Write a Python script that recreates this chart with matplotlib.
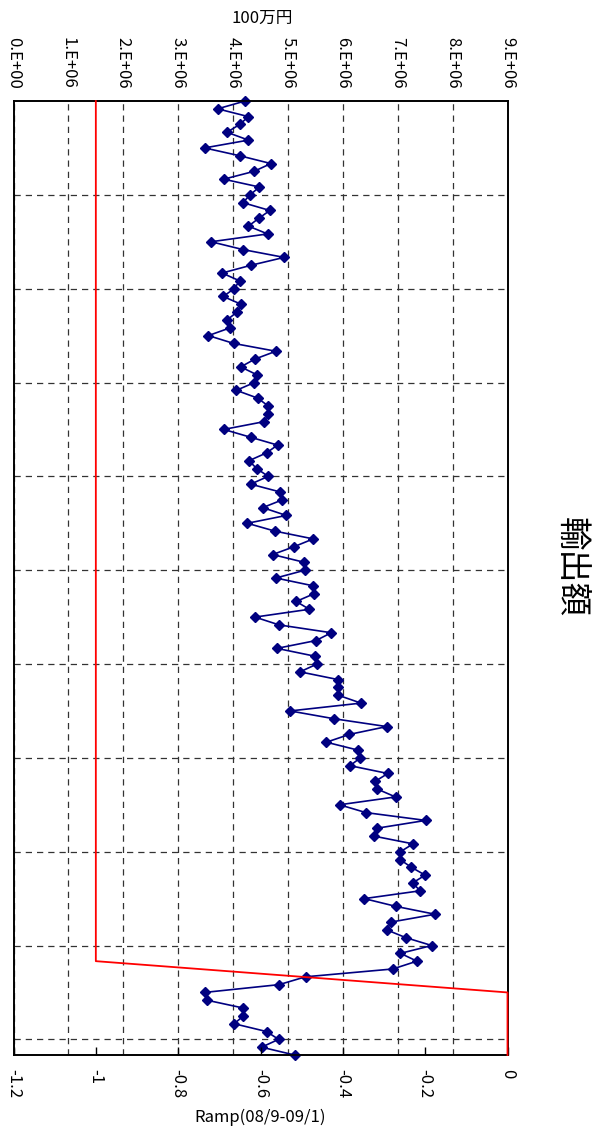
import matplotlib
matplotlib.use("Agg")
import matplotlib.pyplot as plt
import numpy as np

plt.rcParams['font.family'] = ['Noto Sans CJK JP', 'DejaVu Sans']

# monthly exports (100万円), in units of 1e6
export_m = [
    4.22, 3.72, 4.28, 4.12, 3.89, 4.28, 3.48, 4.12, 4.69, 4.38, 3.83, 4.48,
    4.31, 4.18, 4.67, 4.47, 4.28, 4.63, 3.60, 4.18, 4.93, 4.33, 3.80, 4.12,
    4.02, 3.82, 4.15, 4.07, 3.89, 3.95, 3.55, 4.01, 4.78, 4.40, 4.14, 4.43,
    4.39, 4.06, 4.45, 4.64, 4.64, 4.57, 3.83, 4.32, 4.81, 4.61, 4.29, 4.43,
    4.64, 4.32, 4.86, 4.90, 4.54, 4.97, 4.26, 4.76, 5.46, 5.11, 4.72, 5.30,
    5.31, 4.78, 5.46, 5.48, 5.15, 5.39, 4.40, 4.84, 5.79, 5.51, 4.80, 5.49,
    5.53, 5.22, 5.92, 5.91, 5.92, 6.33, 5.04, 5.84, 6.80, 6.12, 5.70, 6.27,
    6.32, 6.13, 6.82, 6.59, 6.63, 6.96, 5.94, 6.42, 7.51, 6.62, 6.56, 7.28,
    7.05, 7.04, 7.25, 7.50, 7.27, 7.41, 6.39, 6.97, 7.68, 6.88, 6.80, 7.15,
    7.62, 7.05, 7.35, 6.91, 5.32, 4.84, 3.48, 3.53, 4.19, 4.19, 4.02, 4.61,
    4.83, 4.52, 5.12,
]
# ramp dummy (08/9-09/1)
ramp = [-1.0] * 111 + [-0.75, -0.5, -0.25] + [0.0] * 9

value_ticks = [0, 1e6, 2e6, 3e6, 4e6, 5e6, 6e6, 7e6, 8e6, 9e6]
value_labels = ["0.E+00", "1.E+06", "2.E+06", "3.E+06", "4.E+06",
                "5.E+06", "6.E+06", "7.E+06", "8.E+06", "9.E+06"]
ramp_ticks = [-1.2, -1.0, -0.8, -0.6, -0.4, -0.2, 0.0]
ramp_labels = ["-1.2", "-1", "-0.8", "-0.6", "-0.4", "-0.2", "0"]

export = np.array(export_m) * 1e6
idx = np.arange(len(export))

fig = plt.figure(figsize=(5.92, 11.44), dpi=100)
ax = fig.add_axes([13.5 / 592, 1 - 1055 / 1144, 494 / 592, 954 / 1144])
ax2 = ax.twiny()

# export axis on top
ax.set_xlim(0, 9e6)
ax.set_ylim(len(export) - 1, 0)
ax.xaxis.tick_top()
ax.set_xticks(value_ticks)
ax.set_xticklabels(value_labels, rotation=-90, fontsize=12)
ax.set_yticks(np.arange(12, len(export), 12))
ax.set_yticklabels([])
ax.tick_params(axis='x', direction='in', length=0, pad=9)
ax.tick_params(axis='y', length=0)
ax.grid(True, color='#333333', linestyle=(0, (5, 4)), linewidth=0.9)

ax.plot(export, idx, color='#000080', linewidth=1.2, marker='D',
        markersize=5.2, zorder=3, clip_on=False)

# ramp axis on bottom
ax2.set_xlim(-1.2, 0)
ax2.xaxis.tick_bottom()
ax2.xaxis.set_label_position('bottom')
ax2.set_xticks(ramp_ticks)
ax2.set_xticklabels(ramp_labels, rotation=-90, fontsize=12)
ax2.tick_params(axis='x', direction='in', length=6, width=1, pad=10)
ax2.set_xlabel("Ramp(08/9-09/1)", fontsize=12, labelpad=8)
ax2.plot(ramp, idx, color='#ff0000', linewidth=1.3, zorder=4, clip_on=False)

for a in (ax, ax2):
    for s in a.spines.values():
        s.set_linewidth(1.2)
        s.set_color('black')

fig.text(262 / 592, 1 - 18 / 1144, "100万円", fontsize=12,
         ha='center', va='center')
fig.text(571 / 592, 1 - 567 / 1144, "輸出額", rotation=-90, fontsize=24,
         ha='center', va='center')

plt.savefig("out.png", dpi=100)
